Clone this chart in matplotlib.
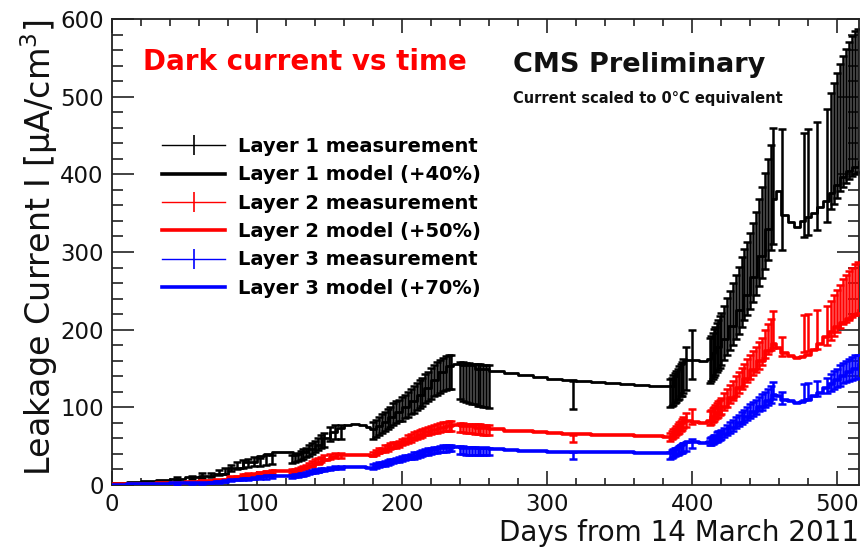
import matplotlib
matplotlib.use("Agg")
import matplotlib.pyplot as plt
from matplotlib.lines import Line2D
from matplotlib.ticker import MultipleLocator

# model curves (days, current in uA/cm3)
model_days = [0, 10, 20, 30, 40, 50, 60, 70, 80, 90,
              100, 105, 110, 120, 125, 130, 135, 140, 145, 150,
              155, 160, 165, 170, 175, 178, 182, 186, 190, 195,
              200, 205, 210, 215, 220, 225, 230, 235, 240, 250,
              260, 270, 280, 290, 300, 310, 320, 330, 340, 350,
              360, 370, 380, 386, 388, 390, 392, 395, 400, 405,
              410, 413, 416, 420, 425, 430, 435, 440, 445, 450,
              455, 458, 461, 466, 470, 474, 478, 482, 486, 490,
              494, 498, 502, 506, 510, 515]
model_l1 = [3, 4, 5, 7, 8, 10, 12, 14, 22, 30,
            37, 40, 42, 42, 40, 42, 46, 52, 60, 68,
            74, 77, 78, 77, 75, 72, 76, 81, 87, 94,
            100, 108, 116, 125, 135, 146, 153, 156, 154, 150,
            147, 144, 141, 139, 137, 135, 134, 132, 131, 130,
            129, 128, 128, 128, 140, 150, 157, 161, 161, 160,
            162, 170, 178, 188, 205, 225, 245, 268, 295, 330,
            368, 378, 348, 338, 332, 340, 345, 350, 358, 366,
            376, 386, 396, 404, 410, 416]
model_l2 = [1, 1, 1, 2, 3, 4, 5, 7, 10, 13,
            16, 17, 18, 18, 18, 20, 23, 27, 32, 36,
            38, 39, 39, 38, 38, 37, 41, 45, 48, 52,
            55, 60, 64, 68, 71, 74, 76, 77, 76, 74,
            72, 70, 69, 68, 67, 66, 66, 65, 64, 64,
            63, 63, 62, 62, 70, 76, 80, 82, 81, 80,
            82, 87, 93, 100, 112, 125, 137, 148, 160, 172,
            182, 176, 170, 166, 164, 165, 168, 174, 182, 190,
            197, 203, 209, 214, 219, 224]
model_l3 = [0.5, 1, 1, 1.5, 2, 2.5, 3, 4, 6, 8,
            10, 11, 12, 12, 12, 13, 15, 17, 19, 21,
            22, 23, 23, 23, 22, 22, 25, 27, 29, 31,
            33, 36, 39, 42, 45, 47, 48, 49, 48, 47,
            46, 45, 44, 44, 43, 43, 43, 42, 42, 42,
            41, 41, 41, 41, 46, 50, 53, 55, 55, 54,
            55, 58, 62, 66, 73, 80, 87, 94, 101, 108,
            116, 114, 110, 108, 106, 107, 109, 114, 119, 125,
            130, 135, 140, 145, 150, 155]

# measurements
meas_days = [45, 55, 62, 68, 74, 78, 82, 86, 90, 94, 98, 102, 106, 110,
             124, 126, 128, 130, 132, 134, 136, 138, 140, 142, 144, 146, 150, 154, 158,
             180, 182, 184, 186, 188, 190, 192, 194, 196, 198, 200, 202, 204, 206,
             208, 210, 212, 214, 216, 218, 220, 222, 224, 226, 228, 230, 232, 234,
             240, 242, 244, 246, 248, 250, 252, 254, 256, 258, 260,
             318,
             385, 386, 387, 388, 389, 390, 391, 392, 393, 394, 396, 400,
             412, 413, 414, 415, 416, 417, 418, 419, 420, 422, 424, 426, 428,
             430, 432, 434, 436, 438, 440, 442, 444, 446, 448, 450, 452, 454, 456,
             462, 477, 480, 486, 493, 496, 498, 500, 502, 504, 506, 508, 510, 512, 514]

meas_l1 = [8, 10, 12, 13, 16, 18, 22, 25, 27, 28, 30, 30, 32, 33,
           33, 34, 36, 38, 40, 42, 44, 47, 50, 53, 56, 58, 66, 68, 68,
           70, 73, 76, 79, 82, 85, 88, 91, 94, 96, 98, 101, 104, 107,
           110, 114, 117, 120, 124, 127, 131, 134, 137, 140, 142, 144, 145, 146,
           135, 133, 132, 131, 130, 130, 129, 129, 128, 128, 127,
           116,
           118, 120, 122, 125, 127, 130, 132, 135, 137, 140, 150, 168,
           160, 163, 166, 170, 173, 177, 180, 184, 188, 196, 204, 212, 220,
           229, 238, 248, 258, 266, 275, 286, 298, 312, 325, 340, 355, 370, 385,
           380, 386, 390, 398, 411, 430, 440, 450, 460, 468, 475, 482, 488, 492, 495]
err_l1 = [2, 2, 3, 3, 3, 4, 4, 5, 5, 5, 6, 5, 6, 6,
          5, 5, 5, 6, 6, 6, 7, 7, 7, 8, 8, 9, 9, 9, 9,
          11, 11, 11, 12, 12, 13, 13, 14, 14, 14, 15, 15, 16, 16,
          17, 17, 18, 18, 19, 19, 20, 20, 21, 21, 21, 22, 22, 22,
          24, 25, 25, 26, 26, 26, 27, 27, 27, 27, 28,
          18,
          18, 18, 19, 19, 20, 20, 21, 21, 22, 22, 28, 32,
          29, 29, 30, 31, 31, 32, 32, 33, 34, 35, 37, 38, 40,
          41, 43, 45, 46, 47, 49, 51, 53, 56, 59, 62, 65, 68, 75,
          78, 67, 68, 70, 73, 75, 78, 80, 82, 84, 86, 88, 90, 92, 92]

meas_l2 = [2, 3, 4, 5, 6, 7, 9, 10, 12, 13, 14, 15, 16, 17,
           18, 19, 20, 21, 22, 24, 26, 28, 30, 32, 33, 35, 37, 38, 38,
           40, 42, 44, 45, 47, 48, 50, 51, 52, 53, 55, 57, 59, 61,
           63, 64, 66, 67, 69, 70, 71, 72, 73, 74, 75, 75, 76, 76,
           74, 74, 73, 73, 73, 72, 72, 72, 71, 71, 71,
           60,
           62, 64, 66, 68, 70, 72, 74, 76, 78, 80, 84, 88,
           86, 88, 90, 92, 94, 96, 98, 100, 102, 107, 112, 117, 122,
           127, 132, 137, 142, 147, 152, 157, 162, 167, 172, 182, 188, 194, 200,
           178, 195, 196, 200, 205, 212, 218, 224, 230, 236, 240, 244, 248, 252, 254]
err_l2 = [1, 1, 1, 1, 1, 1, 1, 2, 2, 2, 2, 2, 2, 2,
          2, 2, 2, 2, 2, 2, 2, 3, 3, 3, 3, 3, 3, 3, 3,
          3, 3, 3, 3, 4, 4, 4, 4, 4, 4, 4, 4, 5, 5,
          5, 5, 5, 5, 5, 5, 5, 5, 6, 6, 6, 6, 6, 6,
          6, 6, 6, 6, 6, 6, 6, 6, 6, 6, 6,
          5,
          5, 5, 6, 6, 6, 6, 7, 7, 7, 7, 9, 10,
          9, 9, 9, 9, 9, 10, 10, 10, 10, 11, 11, 12, 12,
          13, 13, 14, 14, 15, 15, 16, 16, 17, 17, 18, 19, 20, 24,
          12, 24, 24, 25, 25, 25, 26, 27, 28, 29, 30, 31, 32, 33, 33]

meas_l3 = [1, 2, 2, 3, 4, 5, 6, 7, 8, 8, 9, 10, 10, 11,
           11, 12, 12, 13, 14, 15, 16, 17, 18, 19, 20, 20, 21, 22, 22,
           24, 25, 26, 27, 28, 29, 30, 31, 32, 33, 34, 35, 36, 37,
           38, 39, 40, 41, 42, 43, 44, 45, 45, 46, 47, 47, 48, 48,
           45, 45, 44, 44, 44, 44, 43, 43, 43, 43, 43,
           38,
           38, 40, 41, 42, 43, 44, 45, 46, 47, 48, 50, 53,
           56, 57, 58, 59, 60, 62, 63, 64, 65, 68, 71, 74, 77,
           80, 83, 86, 89, 92, 95, 98, 101, 104, 107, 110, 113, 117, 122,
           112, 120, 121, 124, 128, 132, 135, 138, 141, 144, 146, 148, 150, 152, 153]
err_l3 = [1, 1, 1, 1, 1, 1, 1, 1, 1, 1, 1, 2, 2, 2,
          2, 2, 2, 2, 2, 2, 2, 2, 2, 2, 2, 2, 2, 2, 2,
          3, 3, 3, 3, 3, 3, 3, 3, 3, 3, 3, 3, 3, 3,
          4, 4, 4, 4, 4, 4, 4, 4, 4, 4, 4, 4, 4, 4,
          5, 5, 5, 5, 5, 5, 5, 5, 5, 5, 5,
          5,
          5, 5, 5, 5, 5, 5, 5, 5, 6, 6, 6, 6,
          5, 5, 5, 5, 5, 6, 6, 6, 6, 6, 6, 7, 7,
          7, 7, 8, 8, 8, 9, 9, 9, 9, 10, 10, 10, 11, 11,
          8, 10, 10, 10, 10, 11, 12, 12, 13, 13, 14, 14, 15, 15, 15]

labels = ["Layer 1 measurement", "Layer 1 model (+40%)",
          "Layer 2 measurement", "Layer 2 model (+50%)",
          "Layer 3 measurement", "Layer 3 model (+70%)"]

fig = plt.figure(figsize=(8.61, 5.47), dpi=100)
ax = fig.add_axes([112/861, 62/547, 747/861, 466/547])

series = [(meas_l1, err_l1, model_l1, "#000000", 2.0),
          (meas_l2, err_l2, model_l2, "#ff0000", 2.6),
          (meas_l3, err_l3, model_l3, "#0000ff", 2.6)]
handles = []
for k, (vals, errs, model, col, mlw) in enumerate(series):
    ax.errorbar(meas_days, vals, yerr=errs, fmt="none", ecolor=col,
                elinewidth=1.8, capsize=3.2, capthick=1.8, zorder=2 + 2*k)
    ax.plot(model_days, model, color=col, lw=mlw, drawstyle="steps-post",
            zorder=3 + 2*k)
    handles.append(Line2D([], [], color=col, lw=1.0, marker="|", ms=14,
                          mew=1.2))
    handles.append(Line2D([], [], color=col, lw=2.6))

ax.set_xlim(0, 515)
ax.set_ylim(0, 600)
ax.xaxis.set_major_locator(MultipleLocator(100))
ax.xaxis.set_minor_locator(MultipleLocator(20))
ax.yaxis.set_major_locator(MultipleLocator(100))
ax.yaxis.set_minor_locator(MultipleLocator(20))
ax.tick_params(axis="both", which="both", direction="in", top=True,
               right=True, colors="#222222", labelcolor="#111111")
ax.tick_params(axis="x", which="major", length=10, width=1.2, labelsize=16.5, pad=6)
ax.tick_params(axis="x", which="minor", length=5, width=1.2)
ax.tick_params(axis="y", which="major", length=16, width=1.2, labelsize=16.5, pad=6)
ax.tick_params(axis="y", which="minor", length=8, width=1.2)
for s in ax.spines.values():
    s.set_linewidth(1.3)
    s.set_color("#222222")

ax.set_xlabel("Days from 14 March 2011", fontsize=20, loc="right",
              labelpad=2, color="#111111")
ax.set_ylabel("Leakage Current I [\u03bcA/cm$^3$]", fontsize=24, loc="top",
              labelpad=0, color="#111111")

leg = ax.legend(handles, labels, loc="upper left",
                bbox_to_anchor=(162/861, 1 - 137/547),
                bbox_transform=fig.transFigure, frameon=False, borderpad=0,
                borderaxespad=0, handlelength=3.25, handletextpad=0.65,
                labelspacing=0.48, prop={"weight": "bold", "size": 14})

fig.text(143/861, 1 - 62/547, "Dark current vs time", color="#ff0000",
         fontsize=20, fontweight="bold", va="center", ha="left")
fig.text(513/861, 1 - 65/547, "CMS Preliminary", color="#111111",
         fontsize=19.5, fontweight="bold", va="center", ha="left")
fig.text(513/861, 1 - 98/547, "Current scaled to 0\u00b0C equivalent",
         color="#111111", fontsize=10.5, fontweight="bold", va="center",
         ha="left")

fig.savefig("out.png", dpi=100)
